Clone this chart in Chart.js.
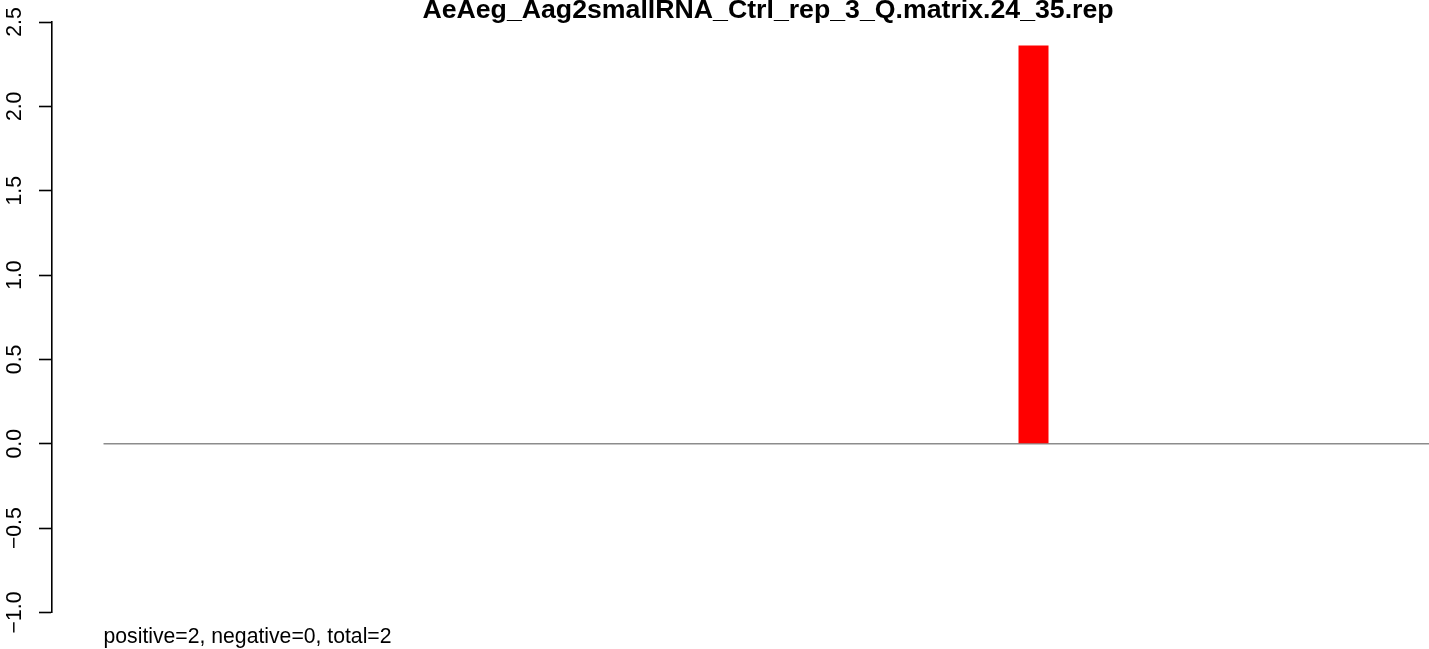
<!DOCTYPE html>
<html>
<head>
<meta charset="utf-8">
<script src="https://cdn.jsdelivr.net/npm/chart.js@4"></script>
<style>
    html, body { margin: 0; padding: 0; background: #fff; overflow: hidden; }
    #wrap { width: 1429px; height: 649px; }
</style>
</head>
<body>
<div id="wrap"><canvas id="myChart" width="1429" height="649"></canvas></div>
<script>
// data
const chartTitle = 'AeAeg_Aag2smallRNA_Ctrl_rep_3_Q.matrix.24_35.rep';
const summaryText = 'positive=2, negative=0, total=2';
const positions = [1, 2, 3, 4, 5, 6, 7, 8, 9, 10, 11, 12, 13, 14, 15, 16, 17, 18, 19, 20, 21, 22, 23,
    24, 25, 26, 27, 28, 29, 30, 31, 32, 33, 34, 35, 36, 37, 38, 39, 40, 41, 42, 43, 44, 45, 46];
const values = [0, 0, 0, 0, 0, 0, 0, 0, 0, 0, 0, 0, 0, 0, 0, 0, 0, 0, 0, 0, 0, 0, 0,
    0, 0, 0, 0, 0, 0, 0, 0, 2.36, 0, 0, 0, 0, 0, 0, 0, 0, 0, 0, 0, 0, 0, 0];
const yTicks = [-1.0, -0.5, 0.0, 0.5, 1.0, 1.5, 2.0, 2.5];

const font = '"Liberation Sans", Arial, Helvetica, sans-serif';

// baseline, title and footer text, R style
const decorations = {
    id: 'decorations',
    beforeDatasetsDraw(chart) {
        let ctx = chart.ctx;
        let x = chart.scales.x;
        let y = chart.scales.y;
        let y0 = y.getPixelForValue(0);
        ctx.save();
        ctx.beginPath();
        ctx.rect(chart.chartArea.left, 0, chart.chartArea.right - chart.chartArea.left, chart.height);
        ctx.clip();
        ctx.strokeStyle = '#8c8c8c';
        ctx.lineWidth = 1.5;
        ctx.beginPath();
        ctx.moveTo(x.getPixelForValue(positions[0]), y0);
        ctx.lineTo(x.getPixelForValue(positions[positions.length - 1]), y0);
        ctx.stroke();
        ctx.restore();
    },
    afterDraw(chart) {
        let ctx = chart.ctx;
        let x = chart.scales.x;
        ctx.save();
        ctx.fillStyle = '#000';
        ctx.textBaseline = 'alphabetic';
        // title centred on the full plot region (which runs past the right edge)
        ctx.font = 'bold 26.7px ' + font;
        ctx.textAlign = 'center';
        ctx.fillText(chartTitle, (chart.chartArea.left + 1484) / 2, 18);
        ctx.font = '21.2px ' + font;
        ctx.textAlign = 'left';
        ctx.fillText(summaryText, x.getPixelForValue(positions[0]), 643);
        ctx.restore();
    }
};

let myChart = document.getElementById('myChart').getContext('2d');

let plot = new Chart(myChart, {
    type: 'bar',
    data: {
        datasets: [{
            label: 'reads',
            data: positions.map((p, i) => ({x: p, y: values[i]})),
            backgroundColor: '#ff0000',
            borderWidth: 0,
            inflateAmount: 0,
            barPercentage: 1,
            categoryPercentage: 1
        }]
    },
    options: {
        responsive: false,
        animation: false,
        layout: {
            padding: {top: 22, bottom: 36.5, left: 0, right: 0}
        },
        plugins: {
            legend: {display: false},
            tooltip: {enabled: false},
            title: {display: false}
        },
        scales: {
            x: {
                type: 'linear',
                display: false,
                offset: false,
                grid: {offset: false},
                min: -0.717,
                max: 45.183,
                ticks: {stepSize: 10}
            },
            y: {
                min: -1,
                max: 2.5,
                afterFit(scale) { scale.width = 52; },
                afterBuildTicks(scale) { scale.ticks = yTicks.map(v => ({value: v})); },
                border: {display: true, color: '#000', width: 1.6},
                grid: {
                    drawOnChartArea: false,
                    drawTicks: true,
                    tickLength: 13,
                    tickWidth: 1.6,
                    tickColor: '#000'
                },
                ticks: {
                    color: '#000',
                    font: {family: font, size: 21.2},
                    minRotation: 90,
                    maxRotation: 90,
                    crossAlign: 'center',
                    padding: 3.1,
                    callback: v => v.toFixed(1).replace('-', '\u2212')
                }
            }
        }
    },
    plugins: [decorations]
});
</script>
</body>
</html>
